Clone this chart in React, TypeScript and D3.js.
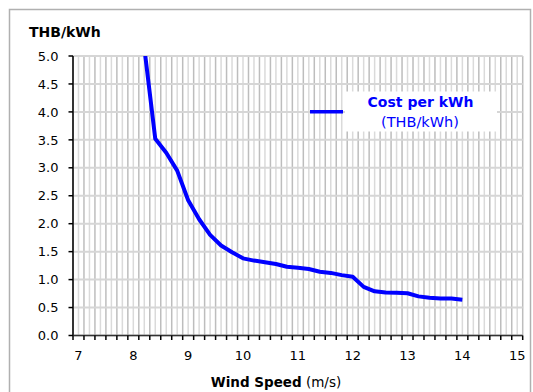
import React from "react";
import * as d3 from "d3";

const windSpeed = [8.2, 8.4, 8.6, 8.8, 9.0, 9.2, 9.4, 9.6, 9.8, 10.0, 10.2, 10.4, 10.6, 10.8, 11.0, 11.2, 11.4, 11.6, 11.8, 12.0, 12.2, 12.4, 12.6, 12.8, 13.0, 13.2, 13.4, 13.6, 13.8, 14.0];
const costPerKWh = [5.15, 3.52, 3.27, 2.95, 2.42, 2.08, 1.8, 1.61, 1.49, 1.38, 1.34, 1.31, 1.28, 1.23, 1.21, 1.19, 1.14, 1.12, 1.08, 1.05, 0.87, 0.79, 0.77, 0.765, 0.755, 0.7, 0.675, 0.66, 0.66, 0.64];
const xTickLabels = [7, 8, 9, 10, 11, 12, 13, 14, 15];
const yTickLabels = [0, 0.5, 1, 1.5, 2, 2.5, 3, 3.5, 4, 4.5, 5];
const seriesName = ["Cost per kWh", "(THB/kWh)"];
const yTitle = "THB/kWh";
const xTitleBold = "Wind Speed";
const xTitleRest = " (m/s)";

const W = 533;
const H = 392;
const left = 73;
const right = 522.7;
const top = 56;
const bottom = 335.5;
const font = "'DejaVu Sans', Verdana, sans-serif";

export default function App() {
  const x = d3.scaleLinear().domain([6.9, 15.1]).range([left, right]);
  const y = d3.scaleLinear().domain([0, 5]).range([bottom, top]);

  const gridX = d3.range(0, 83).map((i) => 6.9 + i * 0.1);
  const tickX = d3.range(0, 42).map((i) => 6.9 + i * 0.2);

  const pts: [number, number][] = windSpeed.map((w, i) => [w, costPerKWh[i]]);
  const line = d3
    .line<[number, number]>()
    .x((d) => x(d[0]))
    .y((d) => y(d[1]));

  return (
    <svg
      width={W}
      height={H}
      style={{ position: "absolute", left: 0, top: 0, display: "block", background: "#fff" }}
      fontFamily={font}
    >
      <rect x={0} y={0} width={W} height={H} fill="#fff" />
      <rect x={9.5} y={9.5} width={521} height={395} fill="none" stroke="#b0b0b0" strokeWidth={1.5} />
      <defs>
        <clipPath id="plotClip">
          <rect x={left} y={top} width={right - left} height={bottom - top} />
        </clipPath>
      </defs>

      {/* vertical gridlines */}
      {gridX.map((v, i) => (
        <line
          key={"gx" + i}
          x1={x(v)}
          x2={x(v)}
          y1={top}
          y2={bottom}
          stroke={i % 2 === 0 ? "#bdbdbd" : "#dadada"}
          strokeWidth={1.5}
        />
      ))}
      {/* horizontal gridlines */}
      {yTickLabels.map((v, i) => (
        <line key={"gy" + i} x1={left} x2={right} y1={y(v)} y2={y(v)} stroke="#d6d6d6" strokeWidth={2} />
      ))}

      {/* axes */}
      <line x1={left} x2={left} y1={top} y2={bottom} stroke="#000" strokeWidth={1.5} />
      <line x1={left} x2={right} y1={bottom} y2={bottom} stroke="#333" strokeWidth={1.5} />
      {yTickLabels.map((v, i) => (
        <g key={"yt" + i}>
          <line x1={left - 4.5} x2={left} y1={y(v)} y2={y(v)} stroke="#000" strokeWidth={1.5} />
          <text x={58.5} y={y(v)} dy="0.36em" textAnchor="end" fontSize={13} fill="#000">
            {d3.format(".1f")(v)}
          </text>
        </g>
      ))}
      {tickX.map((v, i) => (
        <line key={"xt" + i} x1={x(v)} x2={x(v)} y1={bottom} y2={bottom + 4.5} stroke="#000" strokeWidth={1.5} />
      ))}
      {xTickLabels.map((v, i) => (
        <text key={"xl" + i} x={x(v)} y={359.5} textAnchor="middle" fontSize={13} fill="#000">
          {v}
        </text>
      ))}

      {/* data line */}
      <path
        d={line(pts) || ""}
        fill="none"
        stroke="#0000ff"
        strokeWidth={4}
        strokeLinejoin="round"
        clipPath="url(#plotClip)"
      />

      {/* legend */}
      <line x1={310} x2={343} y1={111.7} y2={111.7} stroke="#0000ff" strokeWidth={3.5} />
      <rect x={345} y={91.5} width={152} height={40} fill="#fff" />
      <text x={420.5} y={107.3} textAnchor="middle" fontSize={14} fontWeight="bold" fill="#0000ff">
        {seriesName[0]}
      </text>
      <text x={420} y={127.3} textAnchor="middle" fontSize={14.5} fill="#0000ff">
        {seriesName[1]}
      </text>

      {/* titles */}
      <text x={29} y={37.3} fontSize={14} fontWeight="bold" fill="#000">
        {yTitle}
      </text>
      <text x={276} y={387} textAnchor="middle" fontSize={13.5} fill="#000">
        <tspan fontWeight="bold">{xTitleBold}</tspan>
        <tspan>{xTitleRest}</tspan>
      </text>
    </svg>
  );
}
